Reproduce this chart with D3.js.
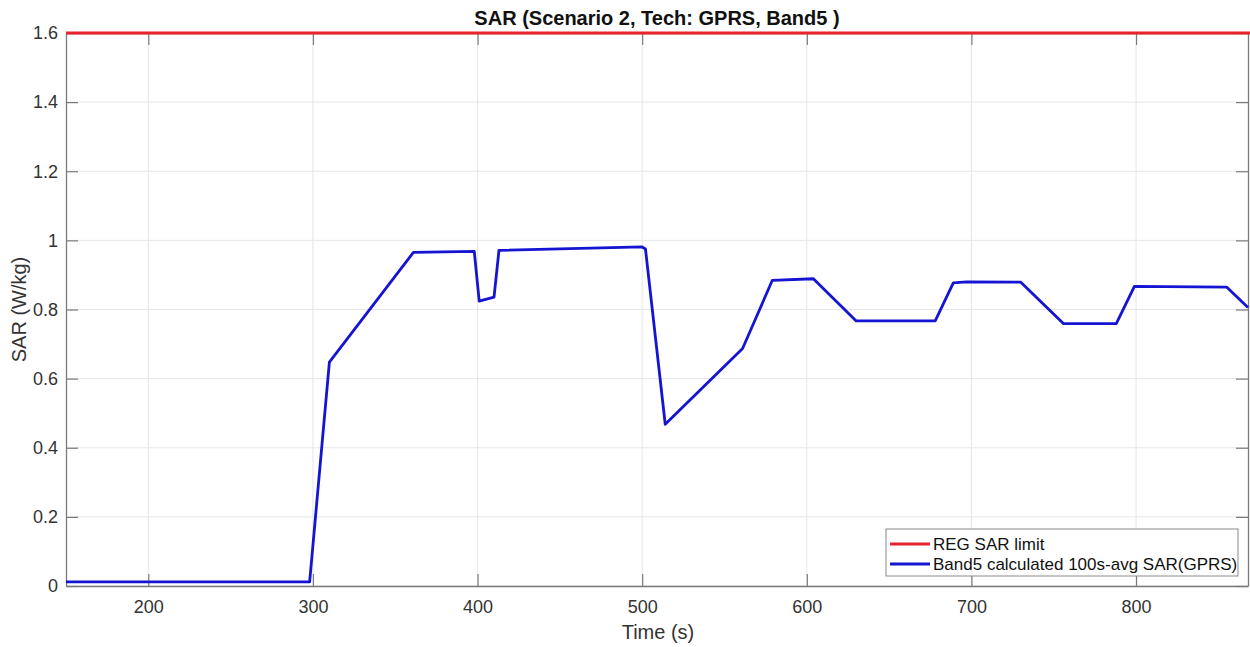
<!DOCTYPE html>
<html><head><meta charset="utf-8">
<script src="https://cdn.jsdelivr.net/npm/d3@7"></script>
<style>body{margin:0;background:#fff;} svg{display:block;font-family:"Liberation Sans",Arial,sans-serif;}</style>
</head><body>
<svg id="chart" width="1250" height="647"></svg>
<script>
const timeS = [150, 298, 310, 361, 398, 401, 410, 413, 500, 502, 514, 561, 579, 604, 630, 678, 689, 697, 730, 756, 788, 799, 855, 868];
const sarValues = [0.012, 0.012, 0.648, 0.965, 0.968, 0.824, 0.836, 0.971, 0.981, 0.975, 0.468, 0.687, 0.884, 0.889, 0.767, 0.767, 0.877, 0.880, 0.879, 0.759, 0.759, 0.867, 0.865, 0.806];
const limitValue = 1.6;
const xTicks = [200, 300, 400, 500, 600, 700, 800];
const yTicks = [0, 0.2, 0.4, 0.6, 0.8, 1, 1.2, 1.4, 1.6];
const legendLabels = ["REG SAR limit", "Band5 calculated 100s-avg SAR(GPRS)"];
const titleText = "SAR (Scenario 2, Tech: GPRS, Band5 )";

const svg = d3.select("#chart");
const L = 66, R = 1248, T = 33, B = 586;
const x = d3.scaleLinear().domain([150, 868]).range([L, R]);
const y = d3.scaleLinear().domain([0, 1.6]).range([B, T]);
const axisColor = "#7a7a7a", textColor = "#333";

// grid
svg.append("g").selectAll("line").data(xTicks).join("line")
  .attr("x1", d => x(d)).attr("x2", d => x(d)).attr("y1", T).attr("y2", B)
  .attr("stroke", "#e6e6e6").attr("stroke-width", 1);
svg.append("g").selectAll("line").data(yTicks).join("line")
  .attr("y1", d => y(d)).attr("y2", d => y(d)).attr("x1", L).attr("x2", R)
  .attr("stroke", "#e6e6e6").attr("stroke-width", 1);

// axes (inner ticks)
const fmtY = d => d3.format("~g")(d);
const gx = svg.append("g").attr("transform", `translate(0,${B})`)
  .call(d3.axisBottom(x).tickValues(xTicks).tickSizeInner(-12).tickSizeOuter(0).tickPadding(14));
const gxTop = svg.append("g").attr("transform", `translate(0,${T})`)
  .call(d3.axisTop(x).tickValues(xTicks).tickSizeInner(-12).tickSizeOuter(0).tickFormat(""));
const gy = svg.append("g").attr("transform", `translate(${L},0)`)
  .call(d3.axisLeft(y).tickValues(yTicks).tickSizeInner(-12).tickSizeOuter(0).tickPadding(8).tickFormat(fmtY));
const gyR = svg.append("g").attr("transform", `translate(${R},0)`)
  .call(d3.axisRight(y).tickValues(yTicks).tickSizeInner(-12).tickSizeOuter(0).tickFormat(""));
[gx, gxTop, gy, gyR].forEach(g => {
  g.attr("font-size", null).attr("font-family", null);
  g.select(".domain").attr("stroke", axisColor).attr("stroke-width", 1.3);
  g.selectAll(".tick line").attr("stroke", axisColor).attr("stroke-width", 1.2);
  g.selectAll(".tick text").attr("fill", textColor).style("font-size", "18px").style("font-family", "'Liberation Sans',Arial,sans-serif");
});

// limit line
svg.append("line").attr("x1", L).attr("x2", 1250).attr("y1", y(limitValue)).attr("y2", y(limitValue))
  .attr("stroke", "#e8232b").attr("stroke-width", 3);

// SAR line
const pts = timeS.map((t, i) => [t, sarValues[i]]);
svg.append("path").datum(pts)
  .attr("d", d3.line().x(d => x(d[0])).y(d => y(d[1])))
  .attr("fill", "none").attr("stroke", "#1414d2").attr("stroke-width", 2.8).attr("stroke-linejoin", "round");

// title & labels
svg.append("text").attr("x", 657).attr("y", 25).attr("text-anchor", "middle")
  .style("font-size", "20px").style("font-weight", "bold").attr("fill", "#111").text(titleText);
svg.append("text").attr("transform", `translate(26,${(T+B)/2}) rotate(-90)`).attr("text-anchor", "middle")
  .style("font-size", "20px").attr("fill", textColor).text("SAR (W/kg)");
svg.append("text").attr("x", 658).attr("y", 639).attr("text-anchor", "middle")
  .style("font-size", "20px").attr("fill", textColor).text("Time (s)");

// legend
const lg = svg.append("g");
lg.append("rect").attr("x", 886).attr("y", 529).attr("width", 352).attr("height", 47)
  .attr("fill", "#fff").attr("stroke", "#8a8a8a").attr("stroke-width", 1);
const legColors = ["#e8232b", "#1414d2"];
legendLabels.forEach((lab, i) => {
  const yy = 544 + i * 20;
  lg.append("line").attr("x1", 890).attr("x2", 930).attr("y1", yy).attr("y2", yy)
    .attr("stroke", legColors[i]).attr("stroke-width", 3);
  lg.append("text").attr("x", 933).attr("y", yy + 6).style("font-size", "17px").attr("fill", "#111").text(lab);
});
</script>
</body></html>
